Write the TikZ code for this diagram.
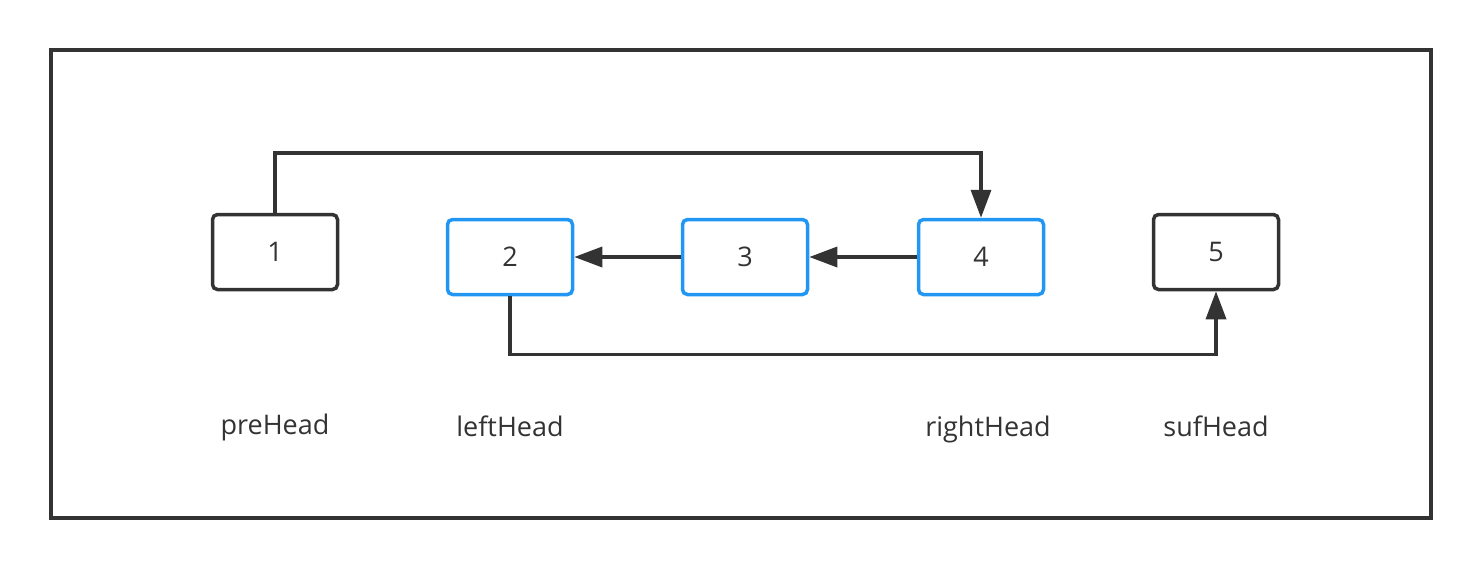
\documentclass[tikz,border=0pt]{standalone}
\usepackage{fontspec}
\setmainfont{Open Sans}
\usetikzlibrary{arrows.meta}
\definecolor{dark}{HTML}{333333}
\definecolor{blueb}{HTML}{2196F3}
\begin{document}
\begin{tikzpicture}[x=0.5pt,y=-0.5pt,
  box/.style={draw=dark, line width=1.75pt, rounded corners=2.5pt, minimum width=62.5pt, minimum height=37.5pt, text=dark, font=\fontsize{13.5}{15}\selectfont, inner sep=0pt},
  bluebox/.style={box, draw=blueb},
  lab/.style={text=dark, font=\fontsize{13.5}{15}\selectfont, inner sep=0pt, text height=10pt, text depth=3pt},
  conn/.style={draw=dark, line width=1.75pt, -{Triangle[length=14pt,width=10pt]}}
]
\useasboundingbox (0,0) rectangle (1482,570);
\node[draw=dark, line width=2pt, minimum width=690pt, minimum height=234pt, inner sep=0pt] (frame) at (741,284) {};
\node[box] (n1) at (275,252) {1};
\node[bluebox] (n2) at (510,257) {2};
\node[bluebox] (n3) at (745,257) {3};
\node[bluebox] (n4) at (981,257) {4};
\node[box] (n5) at (1216,252) {5};
\node[lab] (l1) at (275,427) {preHead};
\node[lab] (l2) at (510,429) {leftHead};
\node[lab] (l4) at (988,429) {rightHead};
\node[lab] (l5) at (1216,429) {sufHead};
\draw[conn] (n1.north) -- ++(0,-60) -| (n4.north);
\draw[conn] (n3.west) -- (n2.east);
\draw[conn] (n4.west) -- (n3.east);
\draw[conn] (n2.south) -- ++(0,58) -| (n5.south);
\end{tikzpicture}
\end{document}
